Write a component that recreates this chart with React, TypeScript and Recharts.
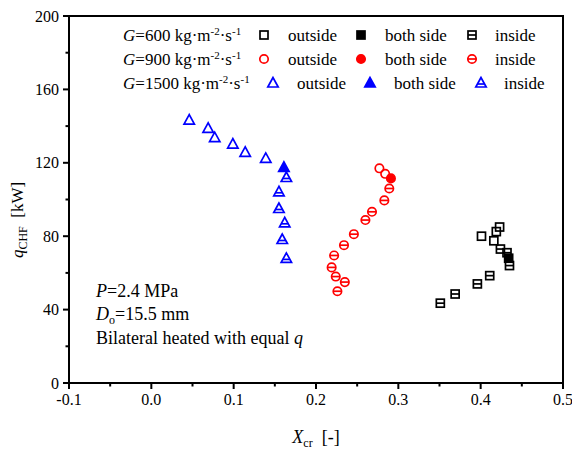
import { ScatterChart, Scatter, XAxis, YAxis, ReferenceArea } from 'recharts';

// G = 600 kg/m2s (black squares)
const g600Outside = [
  { x: 0.401, y: 80 },
  { x: 0.416, y: 77.5 },
  { x: 0.419, y: 82.5 },
  { x: 0.423, y: 85 },
];
const g600Both = [{ x: 0.434, y: 68 }];
const g600Inside = [
  { x: 0.351, y: 43.5 },
  { x: 0.369, y: 48.5 },
  { x: 0.396, y: 54 },
  { x: 0.411, y: 58.5 },
  { x: 0.424, y: 73 },
  { x: 0.432, y: 71 },
  { x: 0.435, y: 64 },
];

// G = 900 (red circles)
const g900Outside = [
  { x: 0.277, y: 117 },
  { x: 0.284, y: 114 },
];
const g900Both = [{ x: 0.291, y: 111.5 }];
const g900Inside = [
  { x: 0.289, y: 106 },
  { x: 0.283, y: 99.5 },
  { x: 0.268, y: 93.3 },
  { x: 0.26, y: 88.8 },
  { x: 0.246, y: 81.1 },
  { x: 0.234, y: 75.1 },
  { x: 0.222, y: 69.5 },
  { x: 0.219, y: 63 },
  { x: 0.224, y: 58 },
  { x: 0.235, y: 55 },
  { x: 0.226, y: 50 },
];

// G = 1500 (blue triangles)
const g1500Outside = [
  { x: 0.046, y: 143.3 },
  { x: 0.069, y: 138.8 },
  { x: 0.077, y: 133.7 },
  { x: 0.099, y: 130.2 },
  { x: 0.114, y: 125.7 },
  { x: 0.139, y: 122.4 },
];
const g1500Both = [{ x: 0.161, y: 117.5 }];
const g1500Inside = [
  { x: 0.164, y: 112 },
  { x: 0.155, y: 104.2 },
  { x: 0.155, y: 95.1 },
  { x: 0.162, y: 87.3 },
  { x: 0.159, y: 78.2 },
  { x: 0.164, y: 67.9 },
];

const xTicks = [-0.1, -0.05, 0, 0.05, 0.1, 0.15, 0.2, 0.25, 0.3, 0.35, 0.4, 0.45, 0.5];
const yTicks = [0, 20, 40, 60, 80, 100, 120, 140, 160, 180, 200];

const flowLabels = ['600', '900', '1500'];
const caseLabels = ['outside', 'both side', 'inside'];

const FONT = '"Liberation Serif", "Times New Roman", serif';

type Variant = 'open' | 'filled' | 'inside';

function Marker({ cx, cy, shape, variant, color }: any) {
  const sw = 1.7;
  const fill = variant === 'filled' ? color : 'none';
  if (shape === 'square') {
    const s = 4;
    return (
      <g>
        <rect x={cx - s} y={cy - s} width={2 * s} height={2 * s} fill={fill} stroke={color} strokeWidth={sw} />
        {variant === 'inside' && <line x1={cx - s} x2={cx + s} y1={cy} y2={cy} stroke={color} strokeWidth={sw} />}
      </g>
    );
  }
  if (shape === 'circle') {
    const r = 4.2;
    return (
      <g>
        <circle cx={cx} cy={cy} r={r} fill={fill} stroke={color} strokeWidth={sw} />
        {variant === 'inside' && <line x1={cx - r} x2={cx + r} y1={cy} y2={cy} stroke={color} strokeWidth={sw} />}
      </g>
    );
  }
  // triangle
  const top = cy - 5.5;
  const bot = cy + 4;
  const hw = 5.2;
  const ly = cy + 1;
  const lw = (hw * (ly - top)) / (bot - top);
  return (
    <g>
      <polygon
        points={`${cx},${top} ${cx - hw},${bot} ${cx + hw},${bot}`}
        fill={fill}
        stroke={color}
        strokeWidth={sw}
        strokeLinejoin="miter"
      />
      {variant === 'inside' && <line x1={cx - lw} x2={cx + lw} y1={ly} y2={ly} stroke={color} strokeWidth={sw} />}
    </g>
  );
}

const series = [
  { data: g600Outside, shape: 'square', variant: 'open', color: '#000000' },
  { data: g600Both, shape: 'square', variant: 'filled', color: '#000000' },
  { data: g600Inside, shape: 'square', variant: 'inside', color: '#000000' },
  { data: g900Outside, shape: 'circle', variant: 'open', color: '#ff0000' },
  { data: g900Both, shape: 'circle', variant: 'filled', color: '#ff0000' },
  { data: g900Inside, shape: 'circle', variant: 'inside', color: '#ff0000' },
  { data: g1500Outside, shape: 'triangle', variant: 'open', color: '#0000ff' },
  { data: g1500Both, shape: 'triangle', variant: 'filled', color: '#0000ff' },
  { data: g1500Inside, shape: 'triangle', variant: 'inside', color: '#0000ff' },
];

const isMajor = (v: number, step: number) => Math.abs(Math.round(v / step) * step - v) < 1e-6;

function XTick({ x, y, payload }: any) {
  const v = payload.value as number;
  const major = isMajor(v, 0.1);
  return (
    <g>
      <line x1={x} x2={x} y1={y} y2={y + (major ? 6 : 3.5)} stroke="#000" strokeWidth={2} />
      {major && (
        <text x={x} y={y + 22} textAnchor="middle" fontSize={16} fontFamily={FONT} fill="#000">
          {v.toFixed(1)}
        </text>
      )}
    </g>
  );
}

function YTick({ x, y, payload }: any) {
  const v = payload.value as number;
  const major = isMajor(v, 40);
  return (
    <g>
      <line x1={x - (major ? 6 : 3.5)} x2={x} y1={y} y2={y} stroke="#000" strokeWidth={2} />
      {major && (
        <text x={x - 10} y={y + 5.5} textAnchor="end" fontSize={16} fontFamily={FONT} fill="#000">
          {v}
        </text>
      )}
    </g>
  );
}

function Overlay() {
  const rowY = [35, 59, 83];
  return (
    <svg width={572} height={450} style={{ position: 'absolute', left: 0, top: 0, pointerEvents: 'none' }}>
      {/* legend */}
      {flowLabels.map((g, i) => {
        const shape = series[i * 3].shape;
        const color = series[i * 3].color;
        const off = i === 2 ? 9 : 0;
        const markerX = [264 + off, 361 + off, 472 + off];
        const textX = [288 + off, 385 + off, 495 + off];
        const variants: Variant[] = ['open', 'filled', 'inside'];
        return (
          <g key={g}>
            <text x={123} y={rowY[i] + 6} fontSize={17} fontFamily={FONT} fill="#000">
              <tspan fontStyle="italic">G</tspan>={g} kg·m
              <tspan fontSize={11} dy={-6}>-2</tspan>
              <tspan dy={6}>·s</tspan>
              <tspan fontSize={11} dy={-6}>-1</tspan>
            </text>
            {variants.map((v, j) => (
              <g key={v}>
                <Marker cx={markerX[j]} cy={rowY[i]} shape={shape} variant={v} color={color} />
                <text x={textX[j]} y={rowY[i] + 6} fontSize={17} fontFamily={FONT} fill="#000">
                  {caseLabels[j]}
                </text>
              </g>
            ))}
          </g>
        );
      })}

      {/* conditions */}
      <text x={96} y={297} fontSize={18} fontFamily={FONT} fill="#000">
        <tspan fontStyle="italic">P</tspan>=2.4 MPa
      </text>
      <text x={96} y={320} fontSize={18} fontFamily={FONT} fill="#000">
        <tspan fontStyle="italic">D</tspan>
        <tspan fontSize={12} dy={4}>o</tspan>
        <tspan dy={-4}>=15.5 mm</tspan>
      </text>
      <text x={96} y={344} fontSize={18} fontFamily={FONT} fill="#000">
        Bilateral heated with equal <tspan fontStyle="italic">q</tspan>
      </text>

      {/* axis titles */}
      <text
        x={316}
        y={443}
        textAnchor="middle"
        fontSize={18}
        fontFamily={FONT}
        fill="#000"
        style={{ whiteSpace: 'pre' }}
      >
        <tspan fontStyle="italic">X</tspan>
        <tspan fontSize={12} dy={4}>cr</tspan>
        <tspan dy={-4}>  [-]</tspan>
      </text>
      <text
        x={0}
        y={0}
        transform="translate(23,220) rotate(-90)"
        textAnchor="middle"
        fontSize={17}
        fontFamily={FONT}
        fill="#000"
        style={{ whiteSpace: 'pre' }}
      >
        <tspan fontStyle="italic">q</tspan>
        <tspan fontSize={12} dy={4}>CHF</tspan>
        <tspan dy={-4}>  [kW]</tspan>
      </text>
    </svg>
  );
}

export default function App() {
  return (
    <div style={{ position: 'absolute', left: 0, top: 0, width: 572, height: 450, background: '#fff' }}>
      <ScatterChart width={572} height={450} margin={{ top: 16, right: 9, bottom: 0, left: 0 }}>
        <XAxis
          type="number"
          dataKey="x"
          domain={[-0.1, 0.5]}
          ticks={xTicks}
          interval={0}
          allowDataOverflow
          height={67}
          tickSize={0}
          tickMargin={0}
          tickLine={false}
          axisLine={{ stroke: '#000', strokeWidth: 2 }}
          tick={<XTick />}
        />
        <YAxis
          type="number"
          dataKey="y"
          domain={[0, 200]}
          ticks={yTicks}
          interval={0}
          allowDataOverflow
          width={69}
          tickSize={0}
          tickMargin={0}
          tickLine={false}
          axisLine={{ stroke: '#000', strokeWidth: 2 }}
          tick={<YTick />}
        />
        <ReferenceArea x1={-0.1} x2={0.5} y1={0} y2={200} fill="none" stroke="#000" strokeWidth={2} />
        {series.map((s, i) => (
          <Scatter
            key={i}
            data={s.data}
            isAnimationActive={false}
            shape={(p: any) => <Marker cx={p.cx} cy={p.cy} shape={s.shape} variant={s.variant} color={s.color} />}
          />
        ))}
      </ScatterChart>
      <Overlay />
    </div>
  );
}
